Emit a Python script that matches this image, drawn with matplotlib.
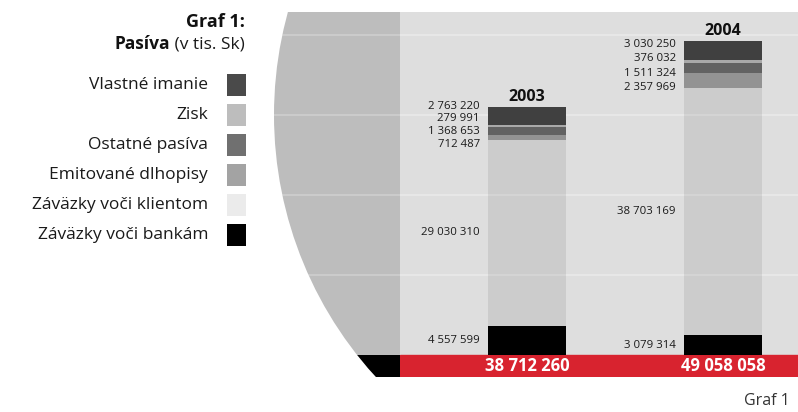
import matplotlib
matplotlib.use("Agg")
import matplotlib.pyplot as plt
from matplotlib.patches import Circle, Rectangle

plt.rcParams['font.family'] = ['Open Sans', 'DejaVu Sans']

# pasíva v tis. Sk
years = ['2003', '2004']
vlastne_imanie = [2763220, 3030250]
zisk = [279991, 376032]
ostatne_pasiva = [1368653, 1511324]
emitovane_dlhopisy = [712487, 2357969]
zavazky_klienti = [29030310, 38703169]
zavazky_banky = [4557599, 3079314]

legend_names = ['Vlastné imanie', 'Zisk', 'Ostatné pasíva', 'Emitované dlhopisy',
                'Záväzky voči klientom', 'Záväzky voči bankám']
legend_colors = ['#4a4a4a', '#bdbdbd', '#707070', '#a3a3a3', '#ebebeb', '#000000']

# stack from the bottom up
stack = [zavazky_banky, zavazky_klienti, emitovane_dlhopisy, ostatne_pasiva, zisk, vlastne_imanie]
stack_colors = ['#000000', (0, 0, 0, 0.08), '#939393', '#626262', '#a9a9a9', '#404040']

grid_values = [12500000, 25000000, 37500000, 50000000]

W, H = 798, 412
fig = plt.figure(figsize=(W / 100, H / 100), dpi=100)

# pixel-space background layer
bg = fig.add_axes([0, 0, 1, 1])
bg.set_xlim(0, W)
bg.set_ylim(H, 0)
bg.axis('off')

panel_left, panel_top, zero_y, band_bottom = 400, 12, 355, 377
px_per_unit = 6.4 / 1e6

ax = fig.add_axes([panel_left / W, (H - band_bottom) / H,
                   (W - panel_left) / W, (band_bottom - panel_top) / H])
y_low = -(band_bottom - zero_y) / px_per_unit
y_high = (zero_y - panel_top) / px_per_unit
ax.set_ylim(y_low, y_high)
ax.set_xlim(-0.648, 1.383)
ax.set_facecolor('#dedede')
for s in ax.spines.values():
    s.set_visible(False)
ax.set_xticks([])
ax.set_yticks([])

# big disc on the left, grey above the zero line and black in the band
disc = Circle((662, 115), 388, facecolor='#bdbdbd', edgecolor='none', zorder=1)
bg.add_patch(disc)
disc.set_clip_path(Rectangle((0, panel_top), panel_left, zero_y - panel_top,
                             transform=bg.transData))
wedge = Circle((662, 115), 388, facecolor='#000000', edgecolor='none', zorder=1)
bg.add_patch(wedge)
wedge.set_clip_path(Rectangle((0, zero_y), panel_left, band_bottom - zero_y,
                              transform=bg.transData))

# red band with totals
ax.axhspan(y_low, 0, color='#d8232f', zorder=1)

# grid lines in the panel and across the disc
for v in grid_values:
    ax.axhline(v, color='white', alpha=0.3, lw=1.3, zorder=0.5)
    disp = ax.transData.transform((0, v))
    gy = bg.transData.inverted().transform(disp)[1]
    gl = bg.hlines(gy, 250, panel_left, color='white', alpha=0.25, lw=1.3, zorder=2)
    gl.set_clip_path(disc)

x = [0, 1]
width = 0.398
bottoms = [0, 0]
for vals, col in zip(stack, stack_colors):
    ax.bar(x, vals, width=width, bottom=bottoms, color=col, edgecolor='none', zorder=2)
    bottoms = [b + v for b, v in zip(bottoms, vals)]
totals = bottoms


def fmt(v):
    return f"{v:,}".replace(",", " ")


label_size = 8.2
text_col = '#1a1a1a'
upper = [vlastne_imanie, zisk, ostatne_pasiva, emitovane_dlhopisy]
label_start = [-1, 3]
label_step = [12.6, 14.6]
for i in range(len(years)):
    left = x[i] - width / 2
    ax.annotate(years[i], (x[i], totals[i]), xytext=(0, 2), textcoords='offset pixels',
                ha='center', va='bottom', fontsize=11.5, fontweight='bold', color='#111111')
    for k, series in enumerate(upper):
        ax.annotate(fmt(series[i]), (left, totals[i]),
                    xytext=(-8, -label_start[i] - k * label_step[i]),
                    textcoords='offset pixels', ha='right', va='center',
                    fontsize=label_size, color=text_col)
    ax.annotate(fmt(zavazky_klienti[i]), (left, zavazky_banky[i] + zavazky_klienti[i] / 2),
                xytext=(-8, 0), textcoords='offset pixels', ha='right', va='center',
                fontsize=label_size, color=text_col)
    ax.annotate(fmt(zavazky_banky[i]), (left, zavazky_banky[i] / 2),
                xytext=(-8, 0), textcoords='offset pixels', ha='right', va='center',
                fontsize=label_size, color=text_col)
    ax.text(x[i], y_low / 2, fmt(totals[i]), ha='center', va='center',
            fontsize=12, fontweight='bold', color='white', zorder=3)

# title block
bg.text(245, 22, 'Graf 1:', ha='right', va='center', fontsize=13, fontweight='bold',
        color='#111111')
unit = bg.text(245, 44, ' (v tis. Sk)', ha='right', va='center', fontsize=12.5, color=text_col)
renderer = fig.canvas.get_renderer()
ext = unit.get_window_extent(renderer)
left_px = bg.transData.inverted().transform((ext.x0, 0))[0]
bg.text(left_px, 44, 'Pasíva', ha='right', va='center', fontsize=12.5, fontweight='bold',
        color='#111111')

# legend
for i, (name, col) in enumerate(zip(legend_names, legend_colors)):
    yc = 85 + 30 * i
    bg.add_patch(Rectangle((227, yc - 11), 19, 22, facecolor=col, edgecolor='none'))
    bg.text(208, yc, name, ha='right', va='center', fontsize=12.5, color=text_col)

bg.text(790, 401, 'Graf 1', ha='right', va='center', fontsize=11.5, color='#333333')

fig.savefig('out.png', dpi=100)
